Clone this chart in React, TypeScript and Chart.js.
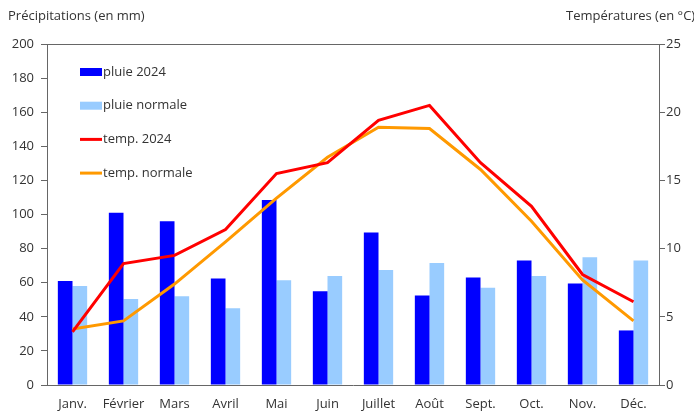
import React, { useEffect, useRef } from "react";
import { Chart, registerables } from "chart.js";

Chart.register(...registerables);

const months = ["Janv.", "Février", "Mars", "Avril", "Mai", "Juin", "Juillet", "Août", "Sept.", "Oct.", "Nov.", "Déc."];
const pluie2024 = [61, 101, 96, 62.5, 108.5, 55, 89.5, 52.5, 63, 73, 59.5, 32];
const pluieNormale = [58, 50.5, 52, 45, 61.5, 64, 67.5, 71.5, 57, 64, 75, 73];
const temp2024 = [3.9, 8.9, 9.5, 11.4, 15.5, 16.3, 19.4, 20.5, 16.3, 13.1, 8.1, 6.1];
const tempNormale = [4.1, 4.7, 7.4, 10.5, 13.7, 16.7, 18.9, 18.8, 15.8, 12.0, 7.7, 4.7];
const leftTitle = "Précipitations (en mm)";
const rightTitle = "Températures (en °C)";

const FONT = "'Open Sans'";
const FS = 13;
const TEXT = "#333333";
const AXIS = "#666666";

const extrasPlugin = {
  id: "extras",
  afterDraw(chart: any) {
    const { ctx, chartArea } = chart;
    ctx.save();
    // top border
    ctx.strokeStyle = AXIS;
    ctx.lineWidth = 1;
    ctx.beginPath();
    ctx.moveTo(chartArea.left, chartArea.top + 0.5);
    ctx.lineTo(chartArea.right, chartArea.top + 0.5);
    ctx.stroke();
    // titles
    ctx.fillStyle = TEXT;
    ctx.font = `${FS}px ${FONT}`;
    ctx.textBaseline = "middle";
    ctx.textAlign = "left";
    ctx.fillText(leftTitle, 8, 16);
    ctx.fillText(rightTitle, 566, 16);
    // legend
    const x0 = chartArea.left + 33;
    const w = 22;
    chart.data.datasets.forEach((ds: any, i: number) => {
      const y = chartArea.top + 28 + i * 33.7;
      if (ds.type === "line") {
        ctx.strokeStyle = ds.borderColor;
        ctx.lineWidth = 3;
        ctx.beginPath();
        ctx.moveTo(x0, y);
        ctx.lineTo(x0 + w, y);
        ctx.stroke();
      } else {
        ctx.fillStyle = ds.backgroundColor;
        ctx.fillRect(x0, y - 4, w, 8);
      }
      ctx.fillStyle = TEXT;
      ctx.fillText(ds.label, x0 + w + 1, y);
    });
    ctx.restore();
  },
};

export default function App() {
  const ref = useRef<HTMLCanvasElement | null>(null);
  useEffect(() => {
    if (!ref.current) return;
    const chart = new Chart(ref.current, {
      type: "bar",
      data: {
        labels: months,
        datasets: [
          { type: "bar", label: "pluie 2024", data: pluie2024, backgroundColor: "#0000FF", yAxisID: "y", order: 2 },
          { type: "bar", label: "pluie normale", data: pluieNormale, backgroundColor: "#99CCFF", yAxisID: "y", order: 2 },
          { type: "line", label: "temp. 2024", data: temp2024, borderColor: "#FF0000", backgroundColor: "#FF0000", borderWidth: 3, pointRadius: 0, yAxisID: "y1", order: 1, tension: 0 },
          { type: "line", label: "temp. normale", data: tempNormale, borderColor: "#FF9900", backgroundColor: "#FF9900", borderWidth: 3, pointRadius: 0, yAxisID: "y1", order: 1, tension: 0 },
        ] as any,
      },
      options: {
        animation: false,
        responsive: true,
        maintainAspectRatio: false,
        layout: { padding: { top: 44, left: 0, right: 0, bottom: 0 } },
        datasets: { bar: { categoryPercentage: 0.575, barPercentage: 1 } } as any,
        plugins: { legend: { display: false }, tooltip: { enabled: false } },
        scales: {
          x: {
            grid: { display: false, drawTicks: false },
            border: { display: true, color: AXIS, width: 1 },
            ticks: { color: TEXT, font: { family: FONT, size: FS }, padding: 11, maxRotation: 0, autoSkip: false },
            afterFit: (s: any) => { s.height = 32; },
          },
          y: {
            position: "left",
            min: 0,
            max: 200,
            ticks: { stepSize: 20, color: TEXT, font: { family: FONT, size: FS }, padding: 7 },
            grid: { display: true, drawOnChartArea: false, drawTicks: true, tickLength: 6, color: AXIS },
            border: { display: true, color: AXIS, width: 1 },
            afterFit: (s: any) => { s.width = 47; },
          },
          y1: {
            position: "right",
            min: 0,
            max: 25,
            ticks: { stepSize: 5, color: TEXT, font: { family: FONT, size: FS }, padding: 1 },
            grid: { display: true, drawOnChartArea: false, drawTicks: true, tickLength: 6, color: AXIS },
            border: { display: true, color: AXIS, width: 1 },
            afterFit: (s: any) => { s.width = 35; },
          },
        },
      },
      plugins: [extrasPlugin],
    });
    return () => chart.destroy();
  }, []);
  return (
    <div style={{ position: "fixed", left: 0, top: 0, width: 694, height: 417 }}>
      <canvas ref={ref} />
    </div>
  );
}
